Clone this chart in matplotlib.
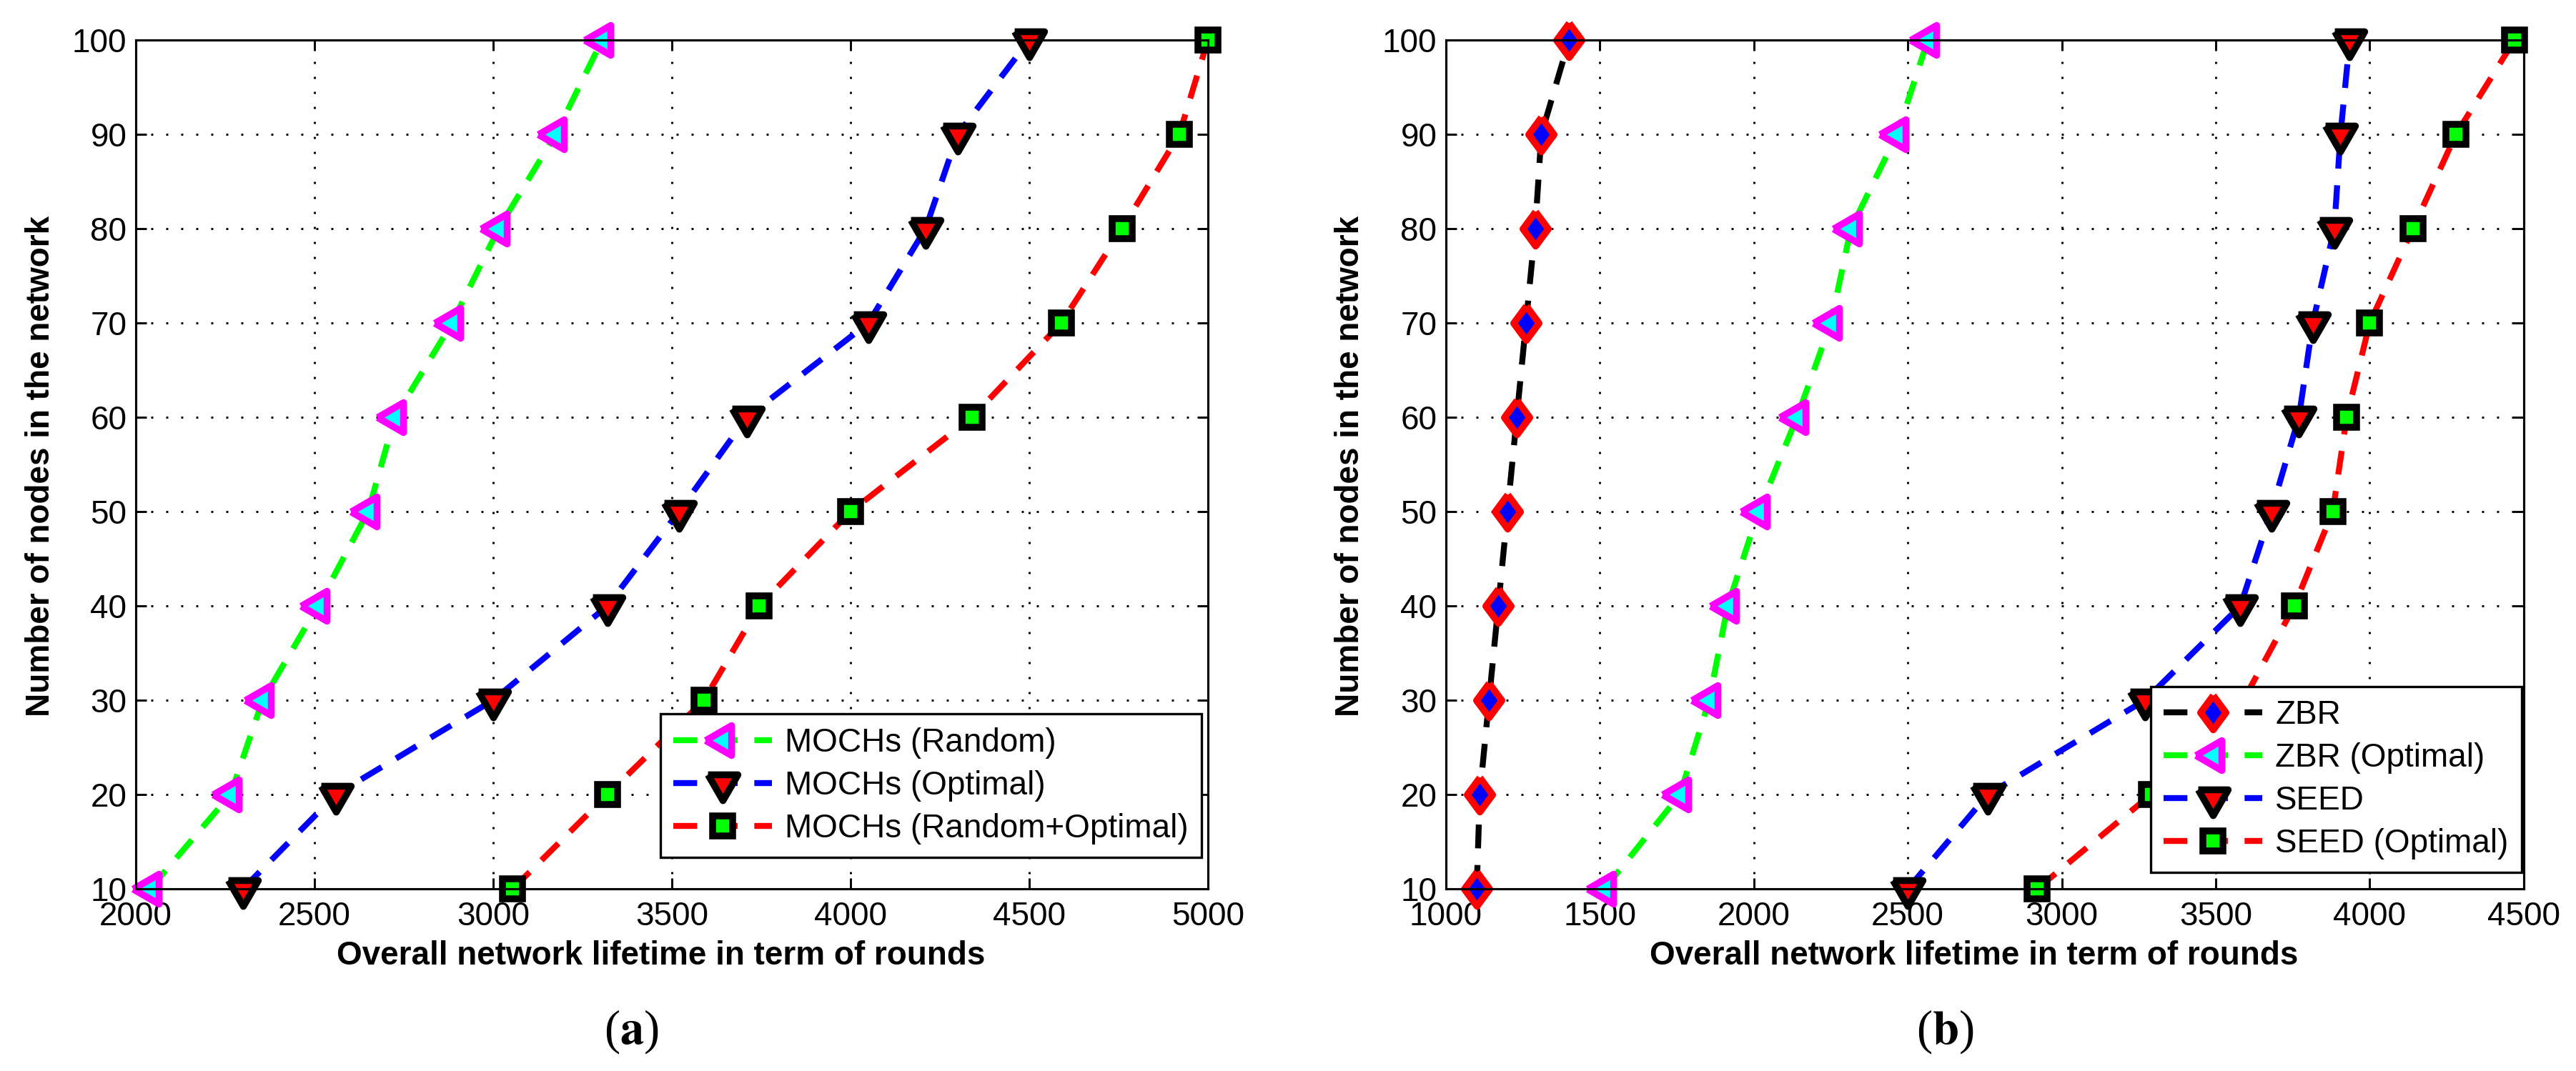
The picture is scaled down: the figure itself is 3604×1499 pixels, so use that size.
import numpy as np
import matplotlib
matplotlib.use('Agg')
import matplotlib.pyplot as plt

plt.rcParams['font.family'] = ['Liberation Sans', 'DejaVu Sans']
plt.rcParams['mathtext.fontset'] = 'stix'

# nodes in the network (y axis of both panels)
nodes = [10, 20, 30, 40, 50, 60, 70, 80, 90, 100]

# panel (a): lifetime in rounds
mochs_random = [2040, 2265, 2355, 2510, 2650, 2725, 2885, 3015, 3175, 3305]
mochs_optimal = [2300, 2560, 3000, 3320, 3520, 3710, 4050, 4210, 4300, 4500]
mochs_rand_opt = [3055, 3320, 3590, 3745, 4000, 4340, 4590, 4760, 4920, 5000]

# panel (b): lifetime in rounds
zbr = [1100, 1110, 1140, 1170, 1200, 1230, 1260, 1290, 1310, 1400]
zbr_optimal = [1515, 1760, 1855, 1915, 2015, 2140, 2250, 2315, 2465, 2565]
seed = [2500, 2760, 3270, 3580, 3680, 3770, 3815, 3885, 3905, 3935]
seed_optimal = [2920, 3290, 3590, 3755, 3880, 3925, 4000, 4140, 4280, 4470]

# matlab-like markers (equilateral triangles centred on centroid)
tri_down = [(-1, 0.577), (1, 0.577), (0, -1.155), (-1, 0.577)]
tri_left = [(-1.155, 0), (0.577, 1), (0.577, -1), (-1.155, 0)]
diamond = [(0, 1), (0.74, 0), (0, -1), (-0.74, 0), (0, 1)]

style_random = dict(color=(0, 1, 0), marker=tri_left, ms=11.6, mfc=(0, 1, 1), mec=(1, 0, 1))
style_opt = dict(color=(0, 0, 1), marker=tri_down, ms=11.6, mfc=(1, 0, 0), mec='k')
style_sq = dict(color=(1, 0, 0), marker='s', ms=6.9, mfc=(0, 1, 0), mec='k')
style_zbr = dict(color='k', marker=diamond, ms=11.5, mfc=(0, 0, 1), mec=(1, 0, 0))


def plot_line(ax, x, style, label):
    ax.plot(x, nodes, linestyle='--', dashes=(4, 2.8), lw=2, mew=2.3,
            label=label, clip_on=False, **style)


def style_axes(ax, xmin, xmax):
    ax.set_xlim(xmin, xmax)
    ax.set_ylim(10, 100)
    ax.set_xticks(np.arange(xmin, xmax + 1, 500))
    ax.set_yticks(nodes)
    ax.tick_params(direction='in', top=True, right=True, length=3.6, width=0.7,
                   labelsize=11, pad=4)
    ax.tick_params(axis='y', pad=3)
    for s in ax.spines.values():
        s.set_linewidth(0.75)
    ax.grid(True, color='k', lw=0.7, linestyle=(0, (1, 6.2)))
    ax.set_axisbelow(True)
    ax.set_xlabel('Overall network lifetime in term of rounds', fontsize=11, fontweight='bold')
    ax.set_ylabel('Number of nodes in the network', fontsize=11, fontweight='bold')
    ax.xaxis.set_label_coords(0.49, -0.061)
    ax.yaxis.set_label_coords(-0.074, 0.498)


fig = plt.figure(figsize=(3604 / 300, 1499 / 300), dpi=300)
ax1 = fig.add_axes([0.0527, 0.1701, 0.4162, 0.7925])
ax2 = fig.add_axes([0.5613, 0.1701, 0.4184, 0.7925])

plot_line(ax1, mochs_random, style_random, 'MOCHs (Random)')
plot_line(ax1, mochs_optimal, style_opt, 'MOCHs (Optimal)')
plot_line(ax1, mochs_rand_opt, style_sq, 'MOCHs (Random+Optimal)')
style_axes(ax1, 2000, 5000)

plot_line(ax2, zbr, style_zbr, 'ZBR')
plot_line(ax2, zbr_optimal, style_random, 'ZBR (Optimal)')
plot_line(ax2, seed, style_opt, 'SEED')
plot_line(ax2, seed_optimal, style_sq, 'SEED (Optimal)')
style_axes(ax2, 1000, 4500)

leg_kw = dict(loc='lower right', fontsize=11, handlelength=3.0, handletextpad=0.4,
              borderpad=0.4, labelspacing=0.35, borderaxespad=0, fancybox=False,
              framealpha=1, edgecolor='k')
l1 = ax1.legend(bbox_to_anchor=(0.994, 0.037), **leg_kw)
l2 = ax2.legend(bbox_to_anchor=(0.998, 0.019), **leg_kw)
for l in (l1, l2):
    l.get_frame().set_linewidth(0.8)
    l.set_zorder(10)

fig.text(0.245, 0.037, r'($\mathbf{a}$)', fontsize=16, ha='center', va='center',
         family='Liberation Serif')
fig.text(0.755, 0.037, r'($\mathbf{b}$)', fontsize=16, ha='center', va='center',
         family='Liberation Serif')

fig.savefig('out.png', dpi=300)
